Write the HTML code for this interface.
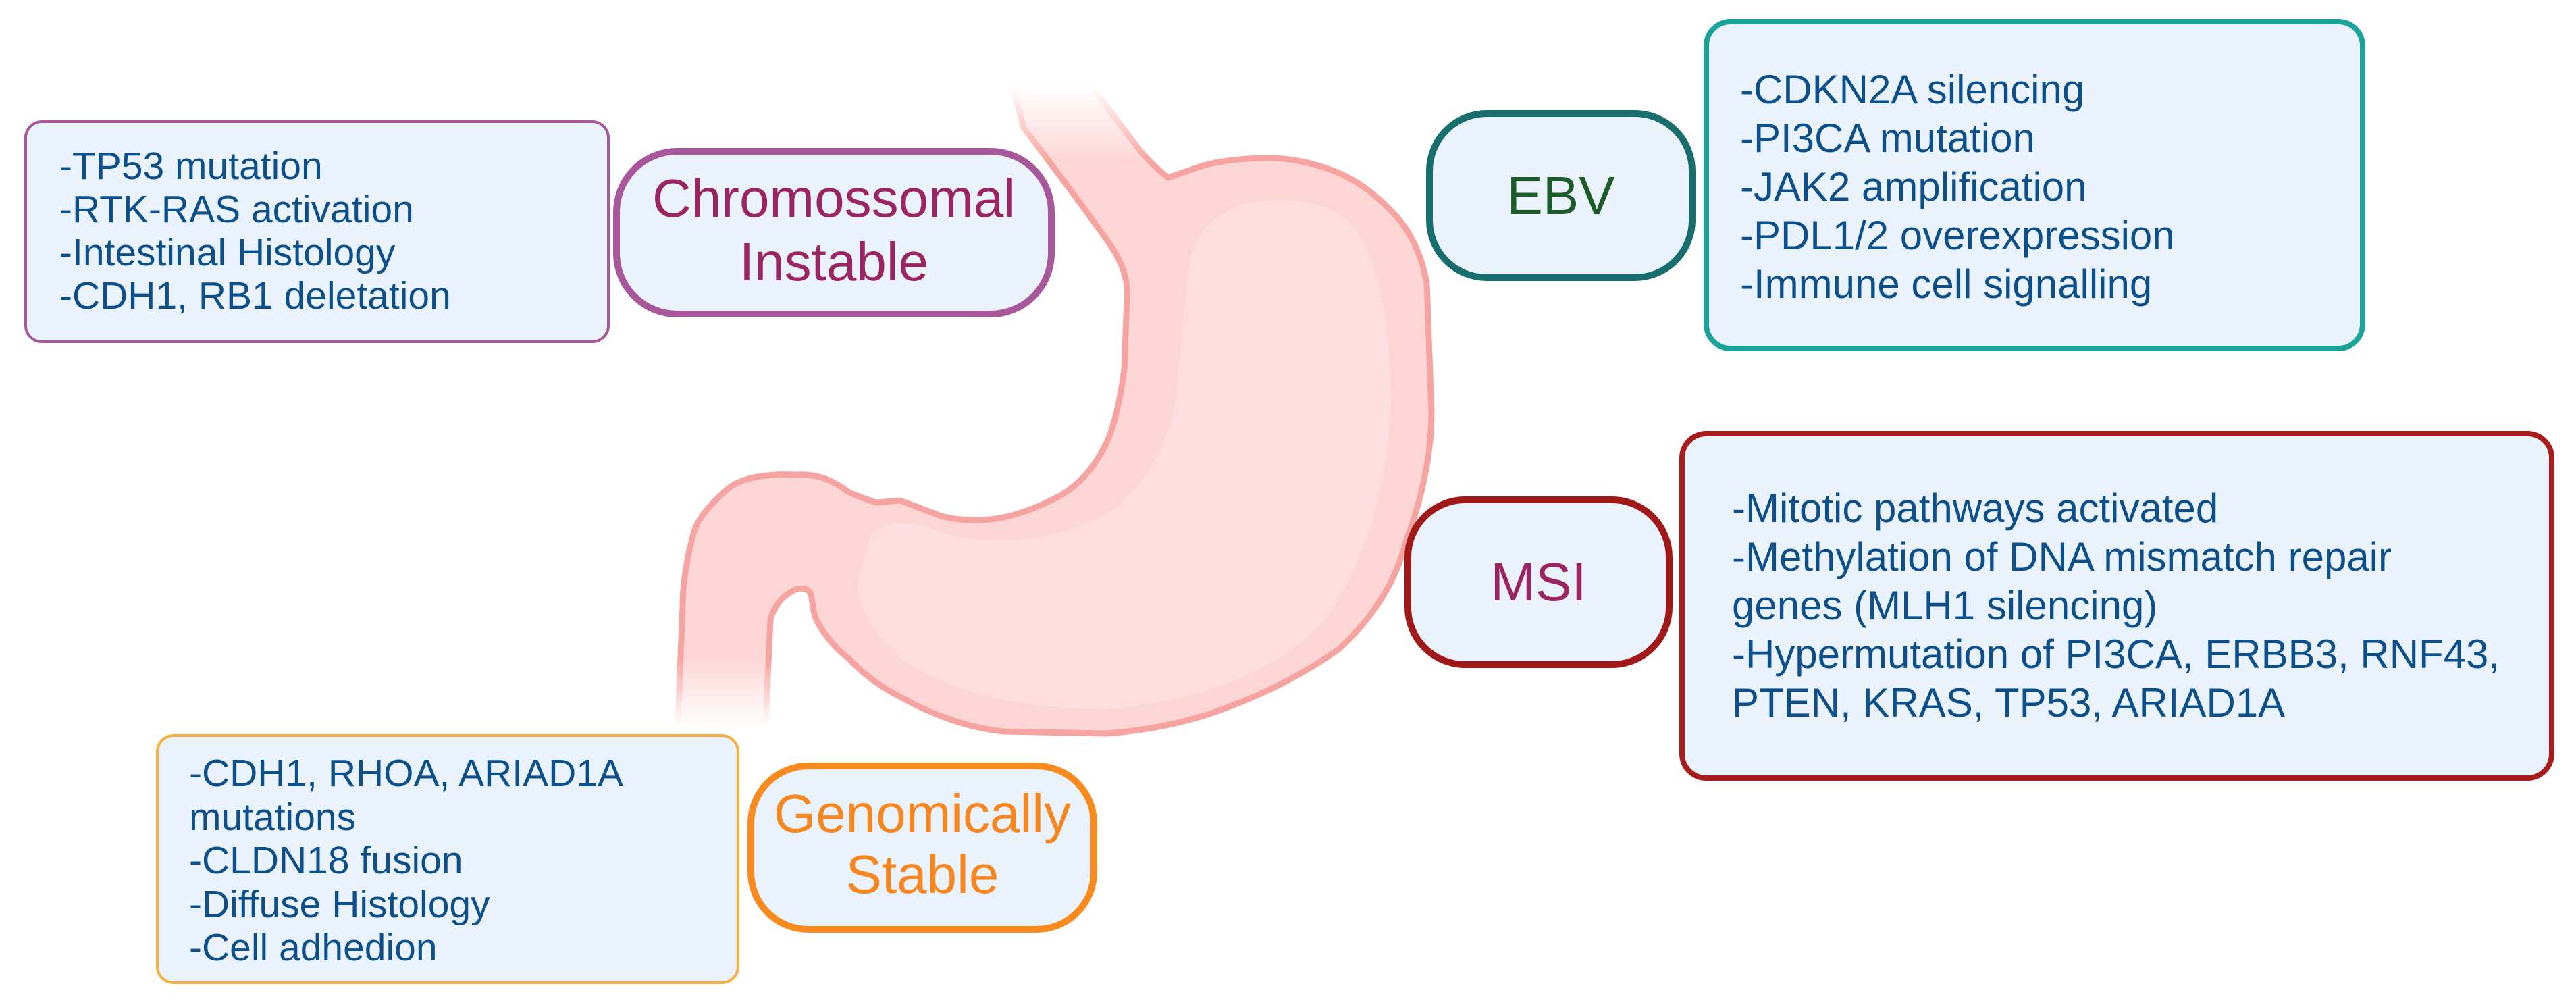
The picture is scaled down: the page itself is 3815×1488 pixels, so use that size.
<!DOCTYPE html>
<html><head><meta charset="utf-8"><style>
html,body{margin:0;padding:0;background:#fff;}
body{width:3815px;height:1488px;position:relative;overflow:hidden;font-family:"Liberation Sans",sans-serif;}
.box{position:absolute;box-sizing:border-box;background:#eaf3fc;}
.t{position:absolute;color:#0d4f8b;font-size:57px;white-space:nowrap;}
.c{position:absolute;text-align:center;font-size:80px;line-height:94px;white-space:nowrap;}
</style></head><body>
<svg width="3815" height="1488" style="position:absolute;left:0;top:0">
<defs>
<linearGradient id="ft" x1="0" y1="0" x2="0" y2="1"><stop offset="0" stop-color="#fff" stop-opacity="1"/><stop offset="0.25" stop-color="#fff" stop-opacity="1"/><stop offset="1" stop-color="#fff" stop-opacity="0"/></linearGradient>
<linearGradient id="fb" x1="0" y1="0" x2="0" y2="1"><stop offset="0" stop-color="#fff" stop-opacity="0"/><stop offset="1" stop-color="#fff" stop-opacity="1"/></linearGradient>
</defs>
<path d="M1500,130 L1516,189 Q1600,300 1639,355 Q1672,400 1669,440 L1665,547 Q1655,620 1639,655 Q1610,715 1562,738 Q1500,770 1447,770 Q1415,770 1394,764 L1333,741 L1298,744 Q1270,735 1256,728 Q1220,700 1180,703 Q1110,700 1080,722 Q1035,760 1027,790 Q1011,850 1011,898 L1004,1070 L1134,1070 L1141,917 Q1150,885 1180,872 Q1200,868 1202,885 Q1205,910 1210,920 Q1230,955 1256,974 Q1290,1010 1332,1031 Q1410,1075 1486,1083 L1638,1086 Q1720,1080 1791,1057 Q1900,1020 1983,961 Q2060,890 2082,802 Q2120,700 2120,610 L2113,419 Q2100,350 2059,311 Q2020,270 1975,253 Q1920,232 1868,234 Q1810,236 1776,247 L1730,263 Q1700,240 1677,208 L1610,120 Z" fill="#fcd6d5" stroke="#f6a4a1" stroke-width="9" stroke-linejoin="round"/>
<path d="M1290,790 Q1330,760 1400,790 Q1520,820 1640,760 Q1720,700 1740,600 L1760,400 Q1770,320 1850,300 Q1950,285 2000,330 Q2060,400 2060,600 Q2050,800 1960,920 Q1860,1030 1640,1050 Q1450,1050 1340,980 Q1270,920 1270,860 Z" fill="#fde0df" opacity="0.7"/>
<rect x="1470" y="90" width="245" height="150" fill="url(#ft)"/>
<rect x="985" y="975" width="170" height="100" fill="url(#fb)"/>
</svg>

<!-- Chromosomal Instable -->
<div class="box" style="left:36px;top:178px;width:867px;height:330px;border:4px solid #a45a9d;border-radius:26px;"></div>
<div class="t" style="left:88px;top:214px;line-height:64px;">-TP53 mutation<br>-RTK-RAS activation<br>-Intestinal Histology<br>-CDH1, RB1 deletation</div>
<div class="box" style="left:908px;top:219px;width:654px;height:251px;border:10px solid #a8589a;border-radius:95px;"></div>
<div class="c" style="left:908px;top:247px;width:654px;color:#9b2462;">Chromossomal<br>Instable</div>

<!-- EBV -->
<div class="box" style="left:2523px;top:28px;width:980px;height:492px;border:8px solid #1ba39a;border-radius:40px;"></div>
<div class="t" style="left:2577px;top:97px;line-height:72px;font-size:60px;">-CDKN2A silencing<br>-PI3CA mutation<br>-JAK2 amplification<br>-PDL1/2 overexpression<br>-Immune cell signalling</div>
<div class="box" style="left:2112px;top:163px;width:399px;height:253px;border:10px solid #176e6c;border-radius:90px;"></div>
<div class="c" style="left:2112px;top:243px;width:399px;color:#1e5b2a;">EBV</div>

<!-- MSI -->
<div class="box" style="left:2487px;top:638px;width:1296px;height:518px;border:8px solid #a81c1c;border-radius:40px;"></div>
<div class="t" style="left:2565px;top:717px;line-height:72px;font-size:60px;">-Mitotic pathways activated<br>-Methylation of DNA mismatch repair<br>genes (MLH1 silencing)<br>-Hypermutation of PI3CA, ERBB3, RNF43,<br>PTEN, KRAS, TP53, ARIAD1A</div>
<div class="box" style="left:2080px;top:735px;width:397px;height:254px;border:10px solid #a01818;border-radius:90px;"></div>
<div class="c" style="left:2080px;top:815px;width:397px;color:#9b2462;">MSI</div>

<!-- Genomically Stable -->
<div class="box" style="left:231px;top:1087px;width:864px;height:370px;border:4px solid #f7b040;border-radius:26px;"></div>
<div class="t" style="left:280px;top:1113px;line-height:64.5px;">-CDH1, RHOA, ARIAD1A<br>mutations<br>-CLDN18 fusion<br>-Diffuse Histology<br>-Cell adhedion</div>
<div class="box" style="left:1107px;top:1129px;width:518px;height:252px;border:10px solid #f98a1e;border-radius:90px;"></div>
<div class="c" style="left:1107px;top:1160px;width:518px;color:#f7861e;line-height:90px;">Genomically<br>Stable</div>
</body></html>
